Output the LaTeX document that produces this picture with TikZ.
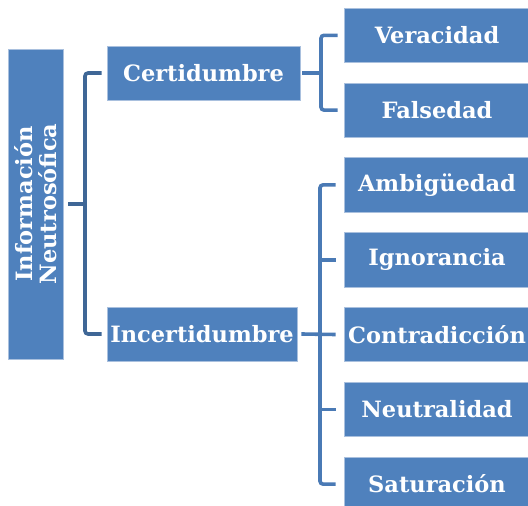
\documentclass[tikz,border=0pt]{standalone}
\usepackage{fontspec}
\setmainfont{DejaVu Serif}
\definecolor{boxblue}{HTML}{4F81BD}
\definecolor{boxedge}{HTML}{A9C0DE}
\definecolor{linedark}{HTML}{3F6796}
\definecolor{linemid}{HTML}{4A7AB5}
\tikzset{
  box/.style={fill=boxblue, draw=boxedge, line width=0.6pt, text=white,
    font=\bfseries\fontsize{22.5}{26}\selectfont, inner sep=0pt, anchor=center},
  leafbox/.style={box, minimum width=186pt, minimum height=54.5pt},
  midbox/.style={box, minimum height=54pt},
  conn/.style={line width=3.6pt, rounded corners=3pt},
}
\begin{document}
\begin{tikzpicture}[x=1pt,y=-1pt]
\useasboundingbox (0,0) rectangle (528,506);
% root
\node[box, minimum width=55pt, minimum height=310pt] (root) at (35.5,204) {};
\node[text=white, font=\bfseries\fontsize{22.5}{24.5}\selectfont, rotate=90, align=center] (roottext) at (root.center) {Información\\Neutrosófica};
% middle
\node[midbox, minimum width=193pt] (cert) at (203.5,73) {Certidumbre};
\node[midbox, minimum width=190pt] (incert) at (202,334) {Incertidumbre};
% leaves
\node[leafbox] (ver) at (437,35.3) {Veracidad};
\node[leafbox] (fal) at (437,110.1) {Falsedad};
\node[leafbox] (amb) at (437,184.9) {Ambigüedad};
\node[leafbox] (ign) at (437,259.7) {Ignorancia};
\node[leafbox] (con) at (437,334.5) {Contradicción};
\node[leafbox] (neu) at (437,409.3) {Neutralidad};
\node[leafbox] (sat) at (437,484.1) {Saturación};
% coordinates
\coordinate (lb) at (85,204);
\coordinate (rb1) at (321,73);
\coordinate (rb2) at (320,334);
% left bracket
\draw[conn, linedark] ([xshift=5pt]root.east) -- (lb);
\draw[conn, linedark] ([xshift=-5pt]cert.west) -| (lb) |- ([xshift=-5pt]incert.west);
% certidumbre bracket
\draw[conn, linemid] ([xshift=2pt]cert.east) -- (rb1);
\draw[conn, linemid] ([xshift=-6pt]ver.west) -| (rb1) |- ([xshift=-6pt]fal.west);
% incertidumbre bracket
\draw[conn, linemid] ([xshift=4pt]incert.east) -- ([xshift=-8pt]con.west);
\draw[conn, linemid] ([xshift=-8pt]amb.west) -| (rb2) |- ([xshift=-8pt]sat.west);
\draw[conn, linemid] (rb2 |- ign.west) -- ([xshift=-8pt]ign.west);
\draw[conn, linemid] (rb2 |- neu.west) -- ([xshift=-8pt]neu.west);
\end{tikzpicture}
\end{document}
